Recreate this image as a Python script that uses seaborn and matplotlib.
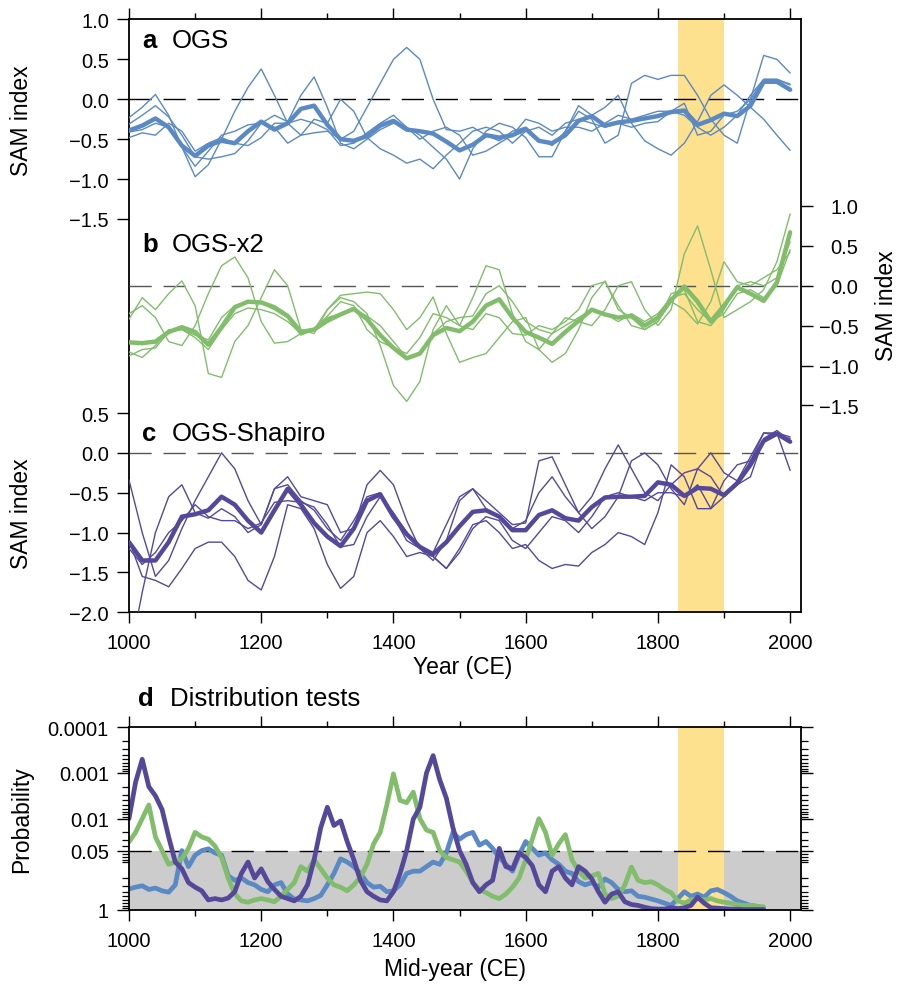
import numpy as np
import pandas as pd
import matplotlib
matplotlib.use("Agg")
import matplotlib.pyplot as plt
import seaborn as sns
from matplotlib.ticker import FixedLocator, LogLocator, NullFormatter

sns.set_theme(style="ticks")
plt.rcParams["font.family"] = ["Liberation Sans", "DejaVu Sans"]
plt.rcParams["axes.edgecolor"] = "black"
plt.rcParams["xtick.color"] = "black"
plt.rcParams["ytick.color"] = "black"
plt.rcParams["text.color"] = "black"

# ---------------- data ----------------
YEARS = list(range(1000, 2001, 20))

# panel a : OGS
a_mean = [-0.39,-0.33,-0.24,-0.35,-0.58,-0.71,-0.58,-0.52,-0.55,-0.40,
          -0.28,-0.38,-0.30,-0.12,-0.08,-0.32,-0.50,-0.52,-0.46,-0.33,
          -0.27,-0.38,-0.40,-0.43,-0.53,-0.64,-0.57,-0.45,-0.48,-0.45,
          -0.37,-0.52,-0.55,-0.45,-0.27,-0.21,-0.33,-0.29,-0.27,-0.24,
          -0.21,-0.16,-0.14,-0.32,-0.26,-0.18,-0.21,-0.08, 0.22, 0.22,
           0.12]
a_m1 = [-0.23,-0.10, 0.06,-0.20,-0.60,-0.97,-0.82,-0.50,-0.15, 0.15,
         0.38, 0.05,-0.30,-0.45,-0.42,-0.40,-0.50,-0.40,-0.10, 0.20,
         0.50, 0.65, 0.50, 0.00,-0.38,-0.40,-0.35,-0.45,-0.52,-0.40,
        -0.35,-0.50,-0.58,-0.40,-0.15,-0.25,-0.55,-0.45, 0.20, 0.30,
         0.25, 0.30, 0.30, 0.05,-0.25,-0.45,-0.55, 0.00, 0.55, 0.50,
         0.33]
a_m2 = [-0.31,-0.20,-0.08,-0.22,-0.45,-0.72,-0.75,-0.72,-0.68,-0.52,
        -0.30,-0.20,-0.28, 0.05, 0.28,-0.10,-0.55,-0.62,-0.50,-0.38,
        -0.30,-0.35,-0.45,-0.60,-0.75,-1.00,-0.62,-0.40,-0.30,-0.35,
        -0.48,-0.72,-0.72,-0.40,-0.08,-0.20,-0.10, 0.05,-0.30,-0.52,
        -0.62,-0.70,-0.55,-0.28, 0.05, 0.18, 0.05,-0.10,-0.25,-0.45,
        -0.64]
a_m3 = [-0.41,-0.38,-0.30,-0.35,-0.60,-0.84,-0.65,-0.45,-0.40,-0.32,
        -0.30,-0.35,-0.55,-0.45,-0.25,-0.30, 0.00,-0.15,-0.48,-0.62,
        -0.70,-0.80,-0.75,-0.87,-0.70,-0.55,-0.40,-0.35,-0.40,-0.55,
        -0.40,-0.35,-0.45,-0.30,-0.25,-0.30,-0.35,-0.30,-0.35,-0.30,
        -0.28,-0.15,-0.05,-0.45,-0.40,-0.20,-0.15, 0.00, 0.25, 0.25,
         0.19]
a_m4 = [-0.48,-0.42,-0.45,-0.30,-0.40,-0.65,-0.55,-0.48,-0.55,-0.58,
        -0.48,-0.30,-0.30,-0.25,-0.30,-0.38,-0.58,-0.55,-0.42,-0.30,
        -0.20,-0.35,-0.50,-0.40,-0.35,-0.45,-0.70,-0.65,-0.55,-0.45,
        -0.25,-0.30,-0.40,-0.35,-0.35,-0.40,-0.30,-0.20,-0.25,-0.20,
        -0.15,-0.15,-0.20,-0.35,-0.45,-0.35,-0.20, 0.05, 0.25, 0.25,
         0.18]

# panel b : OGS-x2
b_mean = [-0.71,-0.72,-0.70,-0.58,-0.52,-0.58,-0.74,-0.52,-0.27,-0.20,
          -0.21,-0.27,-0.38,-0.58,-0.55,-0.44,-0.36,-0.29,-0.42,-0.62,
          -0.78,-0.91,-0.85,-0.62,-0.53,-0.57,-0.45,-0.25,-0.17,-0.40,
          -0.58,-0.65,-0.73,-0.58,-0.44,-0.30,-0.36,-0.40,-0.38,-0.50,
          -0.40,-0.18,-0.01,-0.20,-0.45,-0.25,-0.02,-0.10,-0.19, 0.04,
           0.67]
b_m1 = [-0.35,-0.25,-0.40,-0.70,-0.75,-0.50,-0.10, 0.25, 0.36, 0.10,
        -0.45,-0.72,-0.70,-0.60,-0.55,-0.38,-0.20,-0.25,-0.55,-0.70,
        -0.78,-0.85,-0.65,-0.35,-0.40,-0.50,-0.15, 0.25, 0.20,-0.35,
        -0.70,-0.80,-0.60,-0.40,-0.45,-0.50,-0.30, 0.00, 0.05,-0.30,
        -0.50,-0.30, 0.40, 0.75, 0.20,-0.40,-0.30,-0.20,-0.05, 0.30,
         0.90]
b_m2 = [-0.42,-0.15,-0.30,-0.10, 0.06,-0.25,-1.10,-1.15,-0.70,-0.50,
        -0.15, 0.20, 0.00,-0.55,-0.60,-0.30,-0.15,-0.20,-0.35,-0.75,
        -1.25,-1.45,-1.20,-0.55,-0.25,-0.50,-0.55,-0.35,-0.40,-0.60,
        -0.62,-0.50,-0.55,-0.45,-0.30, 0.00, 0.05,-0.25,-0.50,-0.55,
        -0.45,-0.10,-0.05,-0.45,-0.50,-0.30, 0.00, 0.05, 0.00, 0.10,
         0.55]
b_m3 = [-0.83,-0.90,-0.75,-0.55,-0.55,-0.65,-0.80,-0.55,-0.35,-0.28,
        -0.30,-0.35,-0.45,-0.60,-0.55,-0.30,-0.12,-0.10,-0.08,-0.10,
        -0.30,-0.55,-0.40,-0.14,-0.60,-0.96,-0.90,-0.85,-0.65,-0.45,
        -0.40,-0.80,-0.96,-0.85,-0.55,-0.15, 0.06,-0.30,-0.40,-0.55,
        -0.45,-0.20,-0.30,-0.48,-0.20, 0.30, 0.05, 0.00, 0.10, 0.20,
         0.42]
b_m4 = [-0.88,-0.80,-0.78,-0.58,-0.55,-0.62,-0.68,-0.40,-0.25,-0.20,
        -0.22,-0.30,-0.40,-0.62,-0.55,-0.40,-0.35,-0.30,-0.38,-0.50,
        -0.70,-0.90,-0.85,-0.60,-0.45,-0.40,-0.38,-0.10, 0.00,-0.20,
        -0.45,-0.55,-0.60,-0.50,-0.40,-0.30,-0.35,-0.45,-0.35,-0.45,
        -0.35,-0.15,-0.10,-0.30,-0.45,-0.35,-0.10,-0.05,-0.15, 0.00,
         0.45]

# panel c : OGS-Shapiro
c_mean = [-1.12,-1.35,-1.35,-1.12,-0.80,-0.77,-0.72,-0.55,-0.65,-0.85,
          -1.00,-0.72,-0.45,-0.65,-0.88,-1.05,-1.17,-0.95,-0.60,-0.52,
          -0.80,-1.02,-1.18,-1.27,-1.12,-0.92,-0.74,-0.72,-0.80,-0.97,
          -0.97,-0.78,-0.72,-0.82,-0.85,-0.68,-0.56,-0.55,-0.55,-0.54,
          -0.37,-0.40,-0.54,-0.44,-0.45,-0.53,-0.38,-0.15, 0.15, 0.24,
           0.14]
c_m1 = [-0.34,-1.00,-1.55,-1.35,-0.95,-0.60,-0.30, 0.00,-0.20,-0.60,
        -0.90,-0.45,-0.30,-0.55,-0.60,-0.65,-1.00,-0.95,-0.40,-0.22,
        -0.40,-0.85,-1.20,-1.35,-1.10,-0.60,-0.45,-0.70,-0.80,-0.95,
        -0.85,-0.50,-0.30,-0.55,-0.75,-0.55,-0.20, 0.10,-0.20,-0.50,
        -0.60,-0.40,-0.25,-0.20,-0.30,-0.55,-0.40,-0.10, 0.25, 0.22,
         0.18]
c_m2 = [-2.60,-1.75,-1.00,-0.55,-0.40,-0.75,-0.82,-0.70,-0.80,-1.00,
        -0.90,-0.45,-0.40,-0.60,-0.72,-0.95,-1.10,-0.85,-0.55,-0.50,
        -0.80,-1.10,-1.20,-1.25,-0.90,-0.55,-0.45,-0.60,-0.75,-0.90,
        -0.88,-0.10,-0.05,-0.40,-0.75,-0.95,-0.80,-0.55,-0.10, 0.00,
        -0.15,-0.45,-0.65,-0.20, 0.00,-0.25,-0.35,-0.05, 0.25, 0.25,
        -0.22]
c_m3 = [-1.10,-1.55,-1.60,-1.68,-1.45,-1.20,-1.12,-1.12,-1.30,-1.60,
        -1.72,-1.30,-0.65,-0.70,-0.95,-1.40,-1.70,-1.55,-1.00,-0.85,
        -1.05,-1.30,-1.25,-1.30,-1.45,-1.20,-0.90,-0.85,-1.00,-1.20,
        -1.15,-1.35,-1.45,-1.40,-1.42,-1.25,-1.15,-1.00,-1.05,-1.15,
        -0.75,-0.15,-0.30,-0.70,-0.70,-0.35,-0.15,-0.10, 0.15, 0.25,
         0.20]
c_m4 = [-1.20,-1.40,-1.25,-1.00,-0.85,-0.65,-0.80,-0.85,-0.85,-0.95,
        -0.88,-0.62,-0.60,-0.62,-0.68,-0.90,-1.18,-1.15,-0.80,-0.55,
        -0.75,-1.00,-1.20,-1.30,-1.45,-1.25,-0.95,-0.80,-0.85,-1.10,
        -1.20,-1.00,-0.80,-0.85,-1.00,-0.80,-0.55,-0.50,-0.55,-0.60,
        -0.50,-0.50,-0.55,-0.40,-0.70,-0.55,-0.40,-0.30, 0.18, 0.28,
         0.15]

# panel d : distribution tests, values as -log10(probability)
D_YEARS = list(range(1000, 1961, 10))
d_blue = [0.46,0.50,0.53,0.45,0.48,0.42,0.39,0.55,1.30,0.95,
          1.20,1.30,1.34,1.25,1.20,0.75,0.65,0.70,0.60,0.55,
          0.45,0.40,0.55,0.60,0.35,0.24,0.22,0.20,0.25,0.32,
          0.55,0.80,1.12,1.05,0.95,0.80,0.60,0.50,0.52,0.40,
          0.42,0.55,0.80,0.85,0.85,0.95,1.05,1.00,1.25,1.70,
          1.55,1.65,1.70,1.42,1.50,1.35,1.15,1.00,0.85,1.20,
          1.50,1.35,1.20,1.25,1.10,1.00,0.85,0.80,0.62,0.55,
          0.60,0.50,0.68,0.60,0.45,0.40,0.42,0.30,0.28,0.24,
          0.20,0.15,0.10,0.25,0.40,0.30,0.35,0.28,0.42,0.45,
          0.38,0.30,0.20,0.15,0.10,0.08,0.05]
d_green = [1.49,1.70,2.00,2.30,1.60,1.30,1.00,1.05,1.12,1.35,
           1.70,1.60,1.55,1.40,1.15,0.70,0.35,0.20,0.17,0.22,
           0.25,0.22,0.18,0.30,0.45,0.60,0.95,0.85,1.10,0.90,
           0.70,0.55,0.50,0.42,0.55,0.72,1.00,1.45,1.70,2.30,
           2.98,2.40,2.35,2.58,2.00,1.75,1.70,1.30,1.15,1.10,
           1.05,0.85,0.60,0.45,0.38,0.30,0.25,0.35,0.50,0.70,
           1.10,1.55,2.00,1.70,1.20,1.45,1.65,1.10,0.85,0.70,
           0.75,0.80,0.35,0.25,0.30,0.55,0.94,0.65,0.60,0.62,
           0.55,0.45,0.38,0.20,0.15,0.22,0.25,0.22,0.25,0.20,
           0.17,0.15,0.12,0.10,0.10,0.08,0.07]
d_purple = [2.00,2.80,3.30,2.70,2.50,2.20,1.60,1.05,0.90,0.60,
            0.50,0.42,0.22,0.25,0.22,0.26,0.40,0.80,1.05,0.70,
            0.90,0.62,0.45,0.30,0.25,0.20,0.30,0.55,1.10,1.80,
            2.25,1.85,1.95,1.50,1.10,0.65,0.40,0.30,0.22,0.20,
            0.40,0.80,1.30,1.99,2.25,3.00,3.38,2.85,2.45,1.80,
            1.30,1.00,0.60,0.40,0.55,0.65,1.35,0.95,0.90,1.25,
            1.15,0.97,0.55,0.40,0.85,0.95,0.70,0.55,0.95,0.85,
            0.68,0.40,0.17,0.35,0.40,0.18,0.12,0.10,0.06,0.03,
            0.02,0.02,0.05,0.03,0.05,0.10,0.28,0.15,0.05,0.04,
            0.03,0.02,0.02,0.01,0.01,0.01,0.01]

BAND = (1830, 1900)
BLUE, GREEN, PURPLE = "#5A89C4", "#82BD6C", "#55489B"
YELLOW, GRAY = "#FDE18E", "#CCCCCC"

# ---------------- layout ----------------
FW, FH = 897, 987
fig = plt.figure(figsize=(FW / 100, FH / 100), dpi=100)

def fx(px):
    return px / FW

def fy(py):
    return 1 - py / FH

L, R = 129, 800.7
T1, B1 = 20.3, 613.3
T2, B2 = 728.3, 911.0
rect_top = [fx(L), fy(B1), (R - L) / FW, (B1 - T1) / FH]
rect_d = [fx(L), fy(B2), (R - L) / FW, (B2 - T2) / FH]
XLIM = (1000, 2016)
TICK_FS = 14.5
LAB_FS = 16.5
TIT_FS = 18.5
DASH = (16, 8.5)

def style_xaxis(ax, labels=True):
    ax.set_xlim(*XLIM)
    ax.xaxis.set_major_locator(FixedLocator(list(range(1000, 2001, 200))))
    ax.xaxis.set_minor_locator(FixedLocator(list(range(1100, 2000, 200))))
    ax.tick_params(axis="x", which="both", direction="out", top=True, bottom=True,
                   labeltop=False, labelbottom=labels, labelsize=TICK_FS, pad=7)
    ax.tick_params(axis="x", which="major", length=8, width=1.0)
    ax.tick_params(axis="x", which="minor", length=4, width=1.0)

# main frame of the top panels
ax0 = fig.add_axes(rect_top)
ax0.set_ylim(0, 1)
ax0.set_yticks([])
ax0.axvspan(*BAND, color=YELLOW, lw=0, zorder=0)
style_xaxis(ax0, labels=True)
for s in ax0.spines.values():
    s.set_linewidth(1.3)
    s.set_color("black")

SPAN = (B1 - T1) / 79.8  # data units covered by the frame height

def overlay(top_value):
    ax = fig.add_axes(rect_top)
    ax.patch.set_alpha(0)
    for s in ax.spines.values():
        s.set_visible(False)
    ax.set_xlim(*XLIM)
    ax.set_xticks([])
    ax.set_ylim(top_value - SPAN, top_value)
    return ax

def draw_panel(ax, members, mean, color, dash_color):
    ax.axhline(0, color=dash_color, lw=1.0, dashes=DASH, zorder=1)
    df = pd.DataFrame({
        "year": YEARS * len(members),
        "value": sum(members, []),
        "member": sum([[i] * len(YEARS) for i in range(len(members))], []),
    })
    sns.lineplot(data=df, x="year", y="value", units="member", estimator=None,
                 color=color, lw=1.0, ax=ax, legend=False, zorder=2)
    sns.lineplot(x=YEARS, y=mean, color=color, lw=3.2, ax=ax, legend=False, zorder=3)
    ax.set_xlabel("")
    ax.set_ylabel("")
    ax.set_xlim(*XLIM)
    ax.set_xticks([])

zero_a, zero_b, zero_c = 100.3, 286.7, 454.3
axa = overlay((zero_a - T1) / 79.8)
axb = overlay((zero_b - T1) / 79.8)
axc = overlay((zero_c - T1) / 79.8)

draw_panel(axa, [a_m1, a_m2, a_m3, a_m4], a_mean, BLUE, "black")
draw_panel(axb, [b_m1, b_m2, b_m3, b_m4], b_mean, GREEN, "#555555")
draw_panel(axc, [c_m1, c_m2, c_m3, c_m4], c_mean, PURPLE, "#555555")

def fmt(v):
    return f"{v:.1f}".replace("-", "\u2212")

a_ticks = [1.0, 0.5, 0.0, -0.5, -1.0, -1.5]
c_ticks = [0.5, 0.0, -0.5, -1.0, -1.5, -2.0]
b_ticks = [1.0, 0.5, 0.0, -0.5, -1.0, -1.5]
for ax, ticks in ((axa, a_ticks), (axc, c_ticks)):
    ax.set_yticks(ticks)
    ax.set_yticklabels([fmt(t) for t in ticks])
    ax.tick_params(axis="y", direction="out", left=True, right=False, length=8.4,
                   width=1.0, labelsize=TICK_FS, pad=6)
axb.set_yticks(b_ticks)
axb.set_yticklabels([fmt(t) for t in b_ticks])
axb.tick_params(axis="y", direction="out", left=False, right=True, labelleft=False,
                labelright=True, length=8.4, width=1.0, labelsize=TICK_FS, pad=33)
for lbl in axb.yaxis.get_majorticklabels():
    lbl.set_horizontalalignment("right")

# labels of the top panels
fig.text(fx(22), fy(121), "SAM index", rotation=90, ha="center", va="center", fontsize=LAB_FS)
fig.text(fx(22), fy(514), "SAM index", rotation=90, ha="center", va="center", fontsize=LAB_FS)
fig.text(fx(886), fy(306), "SAM index", rotation=90, ha="center", va="center", fontsize=LAB_FS)
fig.text(fx(463), fy(668), "Year (CE)", ha="center", va="center", fontsize=LAB_FS)

for letter, name, base in (("a", "OGS", 48.5), ("b", "OGS-x2", 251.5), ("c", "OGS-Shapiro", 441)):
    fig.text(fx(142), fy(base), letter, weight="bold", ha="left", va="baseline", fontsize=TIT_FS)
    fig.text(fx(172), fy(base), name, ha="left", va="baseline", fontsize=TIT_FS)

# ---------------- panel d ----------------
axd = fig.add_axes(rect_d)
axd.set_yscale("log")
axd.axhspan(0.05, 1, color=GRAY, lw=0, zorder=0)
axd.axvspan(*BAND, color=YELLOW, lw=0, zorder=0.5)
axd.axhline(0.05, color="black", lw=1.0, dashes=DASH, zorder=1)
for vals, col in ((d_blue, BLUE), (d_green, GREEN), (d_purple, PURPLE)):
    p = [10 ** (-v) for v in vals]
    sns.lineplot(x=D_YEARS, y=p, color=col, lw=3.4, ax=axd, legend=False, zorder=2)
axd.set_ylim(1, 1e-4)
axd.set_xlabel("")
axd.set_ylabel("")
style_xaxis(axd, labels=True)
axd.yaxis.set_major_locator(FixedLocator([1e-4, 1e-3, 1e-2, 0.05, 1]))
axd.set_yticklabels(["0.0001", "0.001", "0.01", "0.05", "1"])
axd.yaxis.set_minor_locator(LogLocator(base=10, subs=[2, 3, 4, 5, 6, 7, 8, 9], numticks=20))
axd.yaxis.set_minor_formatter(NullFormatter())
axd.tick_params(axis="y", which="both", direction="out", left=True, right=True,
                labelleft=True, labelright=False, labelsize=TICK_FS, pad=6)
axd.tick_params(axis="y", which="major", length=8.4, width=1.0)
axd.tick_params(axis="y", which="minor", length=5, width=0.9)
for s in axd.spines.values():
    s.set_linewidth(1.3)
    s.set_color("black")

fig.text(fx(22), fy(820), "Probability", rotation=90, ha="center", va="center", fontsize=LAB_FS)
fig.text(fx(455), fy(970), "Mid-year (CE)", ha="center", va="center", fontsize=LAB_FS)
fig.text(fx(138), fy(706.5), "d", weight="bold", ha="left", va="baseline", fontsize=TIT_FS)
fig.text(fx(170), fy(706.5), "Distribution tests", ha="left", va="baseline", fontsize=TIT_FS)

fig.savefig("out.png", dpi=100)
